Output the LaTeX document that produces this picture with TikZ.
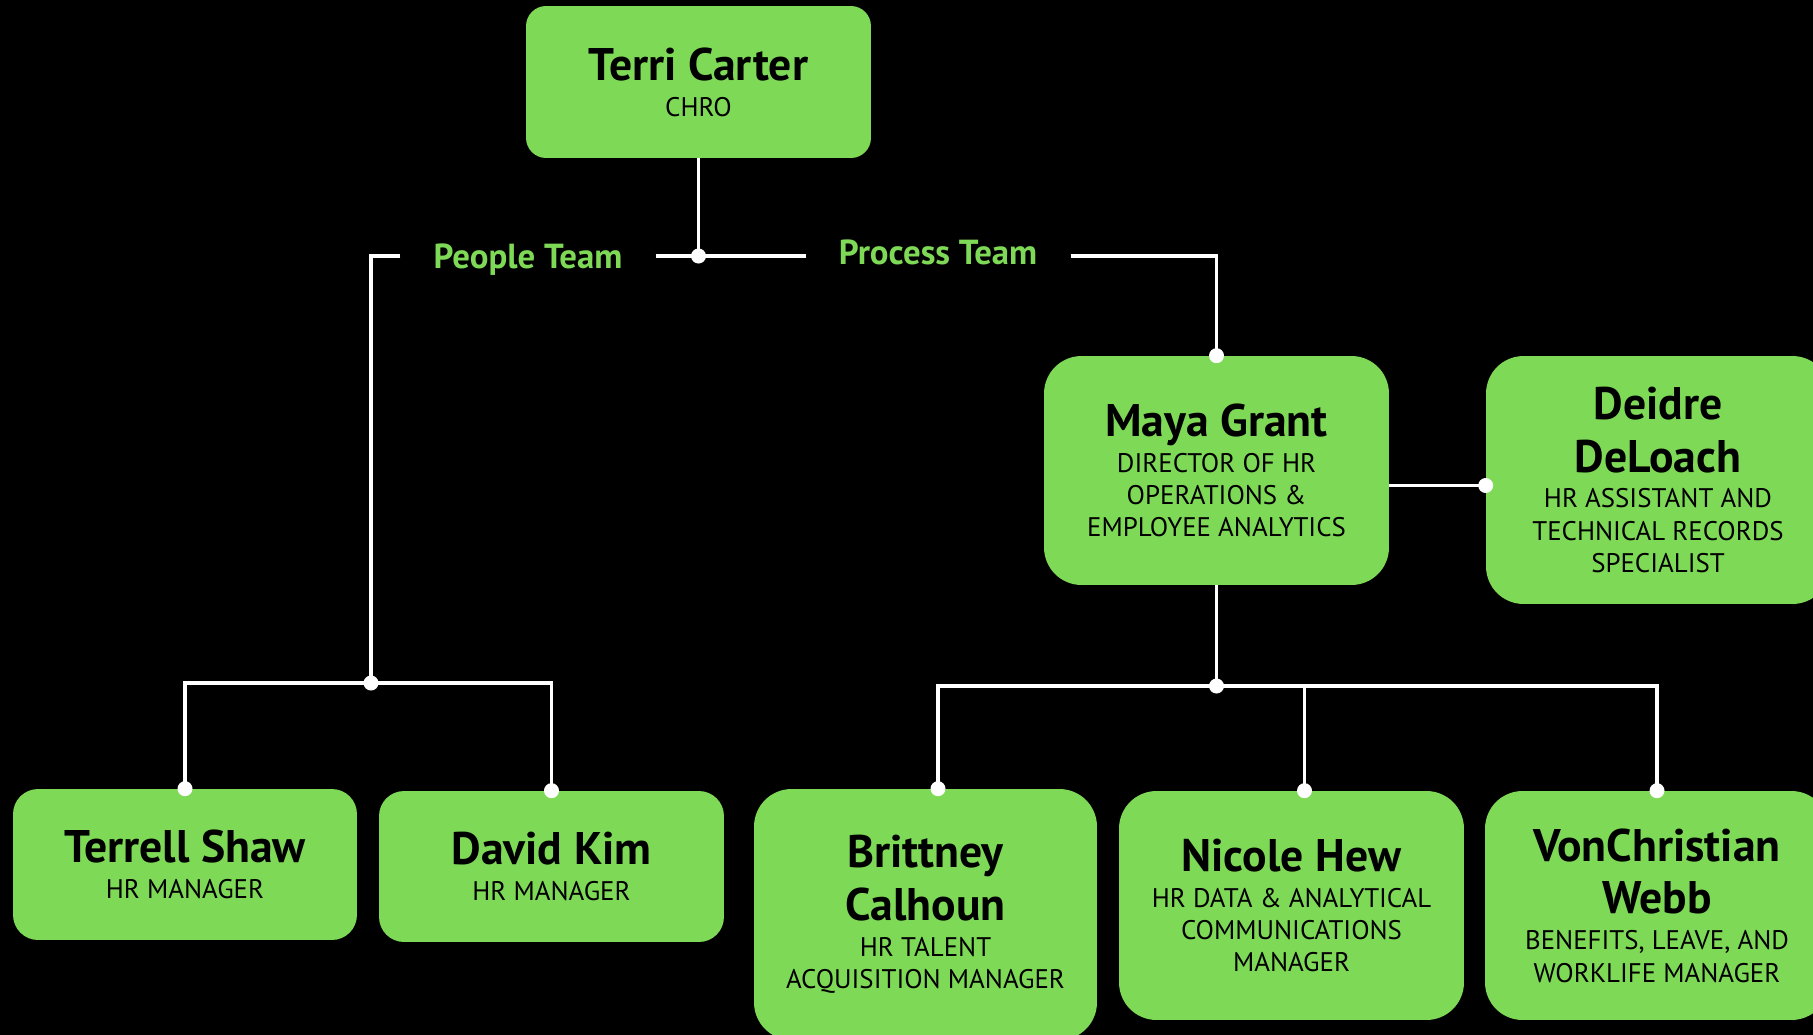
\documentclass[tikz,border=0pt]{standalone}
\usepackage{fontspec}
\setmainfont{PT Sans}
\definecolor{leaf}{RGB}{126,217,87}
\newcommand{\namefont}{\bfseries\fontsize{26}{31}\selectfont}
\newcommand{\rolefont}{\fontsize{15.3}{18.4}\selectfont\lineskiplimit=-\maxdimen}
\newcommand{\who}[1]{{\namefont #1}}

\tikzset{
  card/.style={fill=leaf, rounded corners=#1, inner sep=0pt, align=center,
    font=\rolefont, text=black},
  card/.default=0.75cm,
  team/.style={text=leaf, anchor=base, inner xsep=0.66cm, inner ysep=0pt,
    font=\bfseries\fontsize{19.8}{23}\selectfont},
  wire/.style={white, line width=1.8pt},
}

\begin{document}
\begin{tikzpicture}[x=0.02cm,y=-0.02cm]

\useasboundingbox[fill=black] (0,0) rectangle (1813,1035);

% boxes
\node[card=0.4cm, minimum width=6.9cm, minimum height=3.04cm] (terri) at (698.5,82)
  {\who{Terri Carter}\\[2pt]CHRO};
\node[card=0.5cm, minimum width=6.88cm, minimum height=3.02cm] (terrell) at (185,864.5)
  {\who{Terrell Shaw}\\[2pt]HR MANAGER};
\node[card=0.5cm, minimum width=6.9cm, minimum height=3.02cm] (david) at (551.5,866.5)
  {\who{David Kim}\\[2pt]HR MANAGER};
\node[card, minimum width=6.9cm, minimum height=4.58cm] (maya) at (1216.5,470.5)
  {\who{Maya Grant}\\[2pt]DIRECTOR OF HR\\OPERATIONS \&\\EMPLOYEE ANALYTICS};
\node[card, minimum width=6.88cm, minimum height=4.96cm] (deidre) at (1658,480)
  {\who{Deidre}\\[11.5pt]\who{DeLoach}\\[2pt]HR ASSISTANT AND\\TECHNICAL RECORDS\\SPECIALIST};
\node[card, minimum width=6.86cm, minimum height=5.02cm] (brittney) at (925.5,914.5)
  {\who{Brittney}\\[11.5pt]\who{Calhoun}\\[2pt]HR TALENT\\ACQUISITION MANAGER};
\node[card, minimum width=6.9cm, minimum height=4.58cm] (nicole) at (1291.5,905.5)
  {\who{Nicole Hew}\\[2pt]HR DATA \& ANALYTICAL\\COMMUNICATIONS\\MANAGER};
\node[card, minimum width=6.88cm, minimum height=4.58cm] (von) at (1657,905.5)
  {\who{VonChristian}\\[11.5pt]\who{Webb}\\[2pt]BENEFITS, LEAVE, AND\\WORKLIFE MANAGER};

% team labels
\node[team] (people) at (528,268) {People Team};
\node[team] (process) at (938,264) {Process Team};

% junctions
\coordinate (j0) at (698.5,256);
\coordinate (j1) at (371,683);
\coordinate (j2) at (1216.5,686);
\coordinate (bdrop) at ([xshift=0.25cm]brittney.north);
\coordinate (ndrop) at ([xshift=0.26cm]nicole.north);
\coordinate (tap) at ([yshift=-0.3cm]maya.east);
\coordinate (dock) at (tap -| deidre.west);

\draw[wire] (terri.south) -- (j0);
\draw[wire] (people.east |- j0) -- (j0) -- (process.west |- j0);
\draw[wire] (process.east |- j0) -| (maya.north);
\draw[wire] (people.west |- j0) -| (j1);
\draw[wire] (terrell.north) |- (j1) -| (david.north);
\draw[wire] (tap) -- (dock);
\draw[wire] (maya.south) -- (j2);
\draw[wire] (bdrop) |- (j2) -| (von.north);
\draw[wire] (j2) -| (ndrop);

\foreach \p in {j0, j1, j2, maya.north, dock, terrell.north, david.north, bdrop, ndrop, von.north}
    \fill[white] (\p) circle (0.15cm);

\end{tikzpicture}
\end{document}
